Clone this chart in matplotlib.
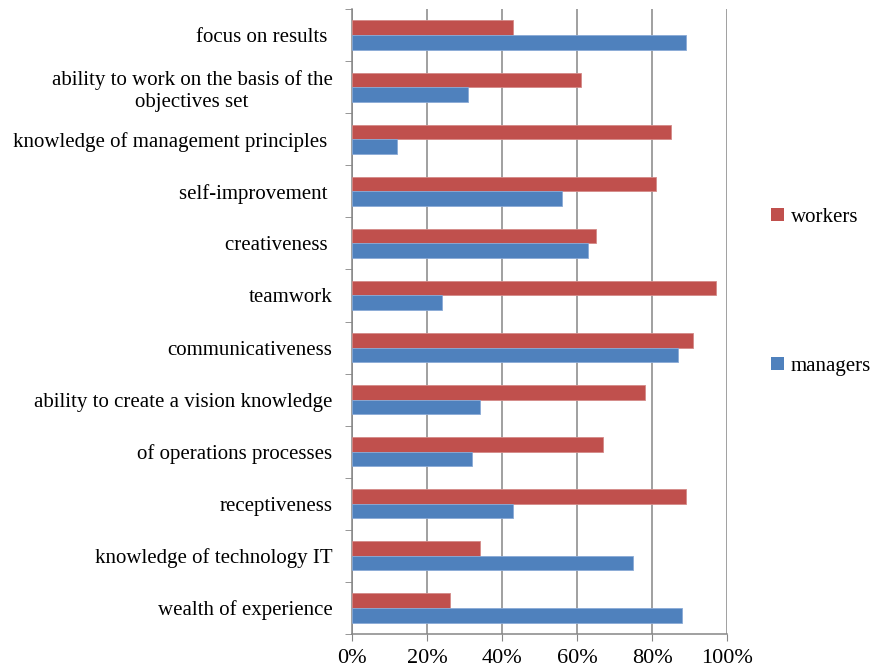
import numpy as np
import matplotlib.pyplot as plt
from matplotlib.patches import Patch
from matplotlib.ticker import PercentFormatter, FixedLocator

plt.rcParams['font.family'] = ['Liberation Serif', 'DejaVu Serif']

# competences, listed from top to bottom as they appear on the chart
skills = [
    "focus on results ",
    "ability to work on the basis of the\nobjectives set",
    "knowledge of management principles ",
    "self-improvement ",
    "creativeness ",
    "teamwork",
    "communicativeness",
    "ability to create a vision knowledge",
    "of operations processes",
    "receptiveness",
    "knowledge of technology IT",
    "wealth of experience",
]
workers = [43, 61, 85, 81, 65, 97, 91, 78, 67, 89, 34, 26]
managers = [89, 31, 12, 56, 63, 24, 87, 34, 32, 43, 75, 88]

red = '#C0504D'
blue = '#4F81BD'
grey = '#868686'

fig = plt.figure(figsize=(8.72, 6.71), dpi=100)
ax = fig.add_axes([352 / 872, 1 - 634 / 671, 375 / 872, 625 / 671])

pos = np.arange(len(skills))
h = 0.28
ax.barh(pos - h / 2, np.array(workers) / 100, height=h, color=red,
        edgecolor='#d48a88', linewidth=0.6, zorder=3)
ax.barh(pos + h / 2, np.array(managers) / 100, height=h, color=blue,
        edgecolor='#8aaad6', linewidth=0.6, zorder=3)

ax.set_ylim(len(skills) - 0.5, -0.5)
ax.set_xlim(0, 1)
ax.set_xticks(np.arange(0, 1.01, 0.2))
ax.xaxis.set_major_formatter(PercentFormatter(1.0, decimals=0))
ax.grid(axis='x', color=grey, linewidth=1.1, zorder=0)

ax.set_yticks(pos)
ax.set_yticklabels(skills, fontsize=15, multialignment='center')
ax.yaxis.set_minor_locator(FixedLocator(np.arange(len(skills) + 1) - 0.5))
ax.tick_params(axis='y', which='major', length=0, pad=14)
ax.tick_params(axis='y', which='minor', length=5, color=grey, direction='out')
ax.tick_params(axis='x', length=5, color=grey, labelsize=16, pad=6)

for side in ('top', 'right'):
    ax.spines[side].set_visible(False)
for side in ('left', 'bottom'):
    ax.spines[side].set_color(grey)
    ax.spines[side].set_linewidth(1.1)

handles = [Patch(facecolor=red, label='workers'),
           Patch(facecolor=blue, label='managers')]
fig.legend(handles=handles, loc='upper left', bbox_to_anchor=(771 / 872, 1 - 208 / 671),
           frameon=False, fontsize=15, labelspacing=6.25, handlelength=0.6,
           handleheight=0.6, handletextpad=0.35, borderpad=0, borderaxespad=0)

fig.savefig('out.png', dpi=100)
